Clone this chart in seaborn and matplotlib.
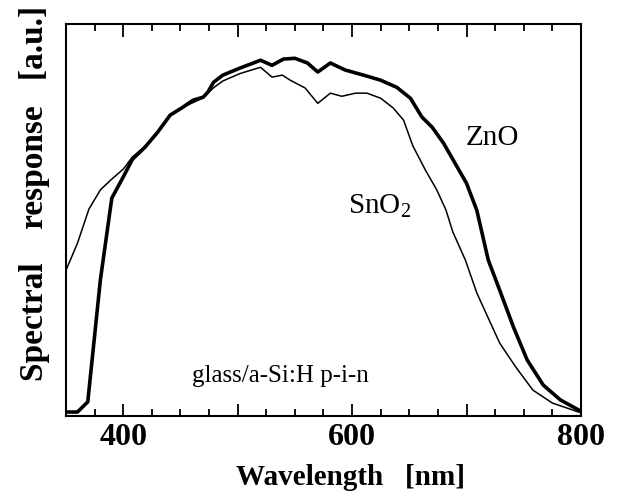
import numpy as np
import pandas as pd
import matplotlib
matplotlib.use('Agg')
import matplotlib.pyplot as plt
from matplotlib.ticker import MultipleLocator
import seaborn as sns

# datos (respuesta en unidades arbitrarias)
wl_zno = [350, 360, 369, 380, 390, 400, 408, 419, 430, 441, 451, 461, 470, 474,
          479, 487, 502, 520, 530, 540, 550, 561, 570, 581, 594, 610, 625, 639,
          651, 661, 670, 680, 690, 700, 709, 719, 729, 741, 753, 767, 782, 800]
resp_zno = [0.010, 0.010, 0.036, 0.347, 0.556, 0.610, 0.655, 0.686, 0.724, 0.768,
            0.786, 0.806, 0.814, 0.827, 0.852, 0.870, 0.888, 0.908, 0.895, 0.911,
            0.913, 0.901, 0.878, 0.901, 0.883, 0.870, 0.857, 0.839, 0.811, 0.763,
            0.737, 0.696, 0.645, 0.594, 0.525, 0.398, 0.321, 0.227, 0.143, 0.079,
            0.041, 0.012]

wl_sno2 = [350, 360, 370, 380, 389, 400, 408, 419, 430, 441, 451, 461, 470, 479,
           487, 502, 520, 530, 539, 546, 559, 570, 581, 591, 603, 613, 625, 636,
           645, 653, 664, 674, 682, 688, 699, 709, 721, 729, 743, 758, 775, 800]
resp_sno2 = [0.372, 0.441, 0.528, 0.577, 0.602, 0.630, 0.661, 0.688, 0.726, 0.766,
             0.786, 0.800, 0.812, 0.838, 0.855, 0.874, 0.890, 0.865, 0.870, 0.857,
             0.837, 0.798, 0.824, 0.816, 0.824, 0.824, 0.811, 0.786, 0.755, 0.690,
             0.628, 0.577, 0.526, 0.470, 0.398, 0.314, 0.237, 0.186, 0.125, 0.066,
             0.033, 0.008]

xticks = [400, 500, 600, 700, 800]
xtick_labels = ['400', '', '600', '', '800']

df_zno = pd.DataFrame({'wl': wl_zno, 'resp': resp_zno})
df_sno2 = pd.DataFrame({'wl': wl_sno2, 'resp': resp_sno2})

sns.set_style('ticks')
plt.rcParams['font.family'] = ['Liberation Serif', 'DejaVu Serif']
plt.rcParams['mathtext.fontset'] = 'custom'
plt.rcParams['mathtext.rm'] = 'Liberation Serif'
for k in ['text.color', 'axes.labelcolor', 'xtick.color', 'ytick.color', 'axes.edgecolor']:
    plt.rcParams[k] = 'black'

fig = plt.figure(figsize=(6.2, 4.94), dpi=100)
ax = fig.add_axes([0.1065, 0.158, 0.8305, 0.793])

sns.lineplot(data=df_zno, x='wl', y='resp', color='black', linewidth=2.6, ax=ax)
sns.lineplot(data=df_sno2, x='wl', y='resp', color='black', linewidth=1.1, ax=ax)

ax.set_xlim(350, 800)
ax.set_ylim(0, 1)
ax.set_xticks(xticks)
ax.set_xticklabels(xtick_labels, fontsize=23, fontweight='bold')
ax.xaxis.set_minor_locator(MultipleLocator(25))
ax.set_yticks([])
ax.tick_params(axis='x', which='both', direction='in', top=True, bottom=True,
               width=1.3, pad=5)
ax.tick_params(axis='x', which='major', length=9)
ax.tick_params(axis='x', which='minor', length=5)
for s in ax.spines.values():
    s.set_linewidth(1.5)
    s.set_visible(True)

ax.set_xlabel('Wavelength   [nm]', fontsize=21, fontweight='bold')
ax.xaxis.set_label_coords(0.553, -0.123)
ax.set_ylabel('Spectral    response   [a.u.]', fontsize=24, fontweight='bold')
ax.yaxis.set_label_coords(-0.031, 0.568)

# etiquetas
ax.text(723, 0.709, 'ZnO', fontsize=21, ha='center', va='center')
ax.text(624, 0.518, r'$\mathrm{SnO}_2$', fontsize=21, ha='center', va='baseline')
ax.text(537, 0.087, 'glass/a-Si:H p-i-n', fontsize=18, ha='center', va='baseline')

plt.savefig('out.png', dpi=100)
